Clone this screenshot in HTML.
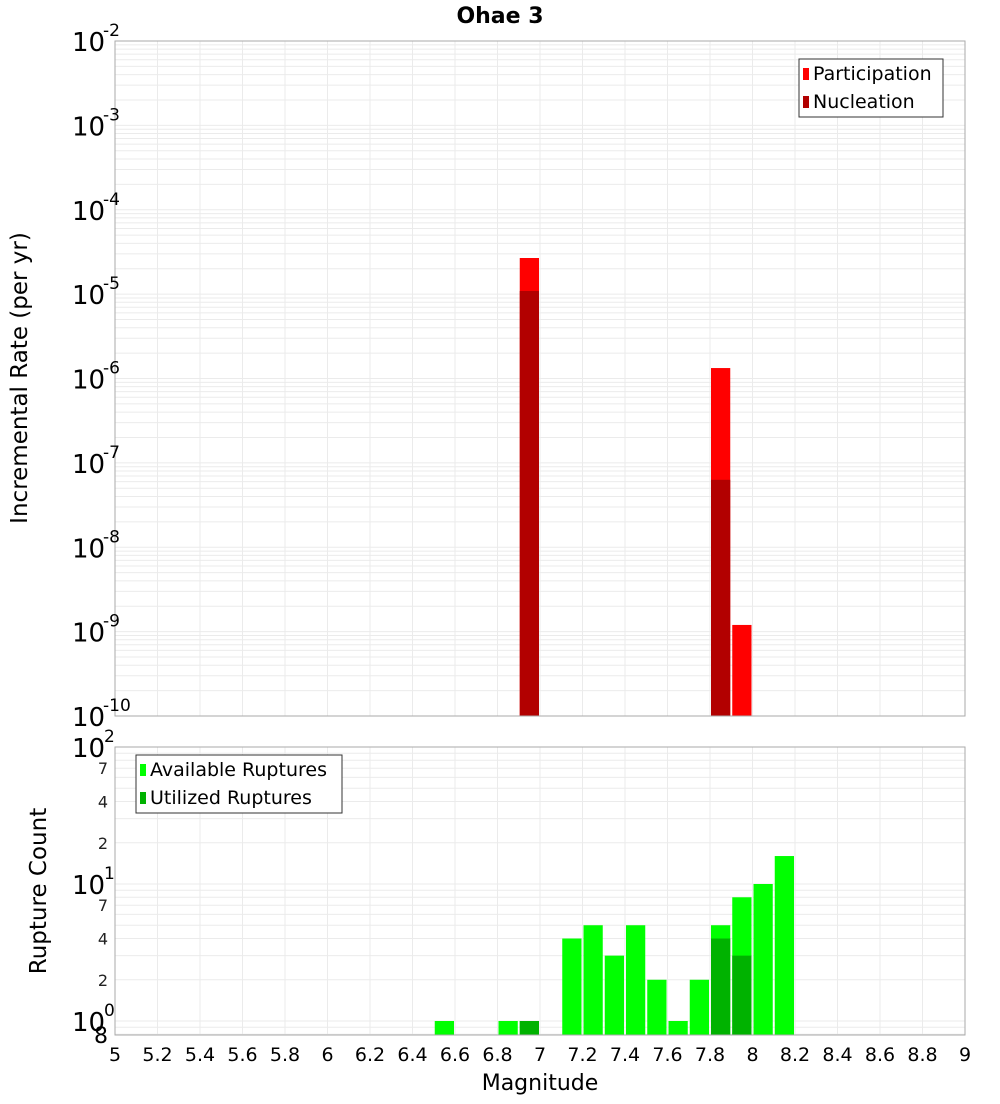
<!DOCTYPE html>
<html><head><meta charset="utf-8"><style>
body{margin:0;background:#fff;font-family:"DejaVu Sans","Liberation Sans",sans-serif}
svg text{font-family:"DejaVu Sans","Liberation Sans",sans-serif}
</style></head><body>
<svg id="c" width="1000" height="1100" xmlns="http://www.w3.org/2000/svg">
<text x="500" y="23" text-anchor="middle" font-size="22" font-weight="bold">Ohae 3</text>
<text transform="translate(27,378) rotate(-90)" text-anchor="middle" font-size="23">Incremental Rate (per yr)</text>
<text transform="translate(46,891) rotate(-90)" text-anchor="middle" font-size="23">Rupture Count</text>
<text x="540" y="1090" text-anchor="middle" font-size="22">Magnitude</text>
<g id="g"></g>
</svg>
<script>
const binCenters = [6.95, 7.85, 7.95];
const participation = [2.68e-5, 1.33e-6, 1.2e-9];
const nucleation = [1.09e-5, 6.3e-8, 0];
const countMags = [6.55, 6.85, 6.95, 7.15, 7.25, 7.35, 7.45, 7.55, 7.65, 7.75, 7.85, 7.95, 8.05, 8.15];
const available = [1, 1, 1, 4, 5, 3, 5, 2, 1, 2, 5, 8, 10, 16];
const utilized = [0, 0, 1, 0, 0, 0, 0, 0, 0, 0, 4, 3, 0, 0];
const xTicks = [5,5.2,5.4,5.6,5.8,6,6.2,6.4,6.6,6.8,7,7.2,7.4,7.6,7.8,8,8.2,8.4,8.6,8.8,9];

const NS="http://www.w3.org/2000/svg", g=document.getElementById('g');
function el(t,a,p){const e=document.createElementNS(NS,t);for(const k in a)e.setAttribute(k,a[k]);(p||g).appendChild(e);return e;}
const X0=115,X1=965;
const x=v=>X0+(v-5)/4*(X1-X0);
const T0=41,T1=716;
const yT=v=>T1-(Math.log10(v)+10)/8*(T1-T0);
const B0=747,B1=1035,BD=137;
const yB=v=>B0+(2-Math.log10(v))*BD;

for(let d=-10;d<-2;d++)for(let m=1;m<10;m++){const yy=yT(m*Math.pow(10,d));if(yy<T0||yy>T1)continue;
 const l=el('line',{x1:X0,x2:X1,y1:yy,y2:yy,stroke:'#ebebeb','stroke-width':1});
 }
for(let d=-1;d<2;d++)for(let m=1;m<10;m++){const yy=yB(m*Math.pow(10,d));if(yy<B0||yy>B1)continue;
 const l=el('line',{x1:X0,x2:X1,y1:yy,y2:yy,stroke:'#ebebeb','stroke-width':1});
 }
xTicks.forEach(t=>{[[T0,T1],[B0,B1]].forEach(r=>{const l=el('line',{x1:x(t),x2:x(t),y1:r[0],y2:r[1],stroke:'#ebebeb'});
 });});

const bw=(x(5.1)-x(5))-2;
binCenters.forEach((m,i)=>{
 const px=x(m)-bw/2;
 const r=el('rect',{x:px,y:yT(participation[i]),width:bw,height:T1-yT(participation[i]),fill:'#ff0000'});
 
 if(nucleation[i]>0){const n=el('rect',{x:px,y:yT(nucleation[i]),width:bw,height:T1-yT(nucleation[i]),fill:'#b20000'});
 }
});
countMags.forEach((m,i)=>{
 const px=x(m)-bw/2;
 const r=el('rect',{x:px,y:yB(available[i]),width:bw,height:B1-yB(available[i]),fill:'#00ff00'});
 
 if(utilized[i]>0){const n=el('rect',{x:px,y:yB(utilized[i]),width:bw,height:B1-yB(utilized[i]),fill:'#00b200'});
 }
});
[[T0,T1,'top-plot-frame'],[B0,B1,'bottom-plot-frame']].forEach(r=>{const f=el('rect',{x:X0,y:r[0],width:X1-X0,height:r[1]-r[0],fill:'none',stroke:'#aaa'});
 });
for(let d=-10;d<=-2;d++){const yy=yT(Math.pow(10,d));
 const t=el('text',{x:72,y:yy+10,'font-size':26});t.textContent='10';
 
 const s=el('text',{x:103,y:yy-5,'font-size':17});s.textContent=String(d);
 }
[0,1,2].forEach(d=>{const yy=yB(Math.pow(10,d));
 const t=el('text',{x:72,y:yy+10,'font-size':26});t.textContent='10';
 
 const s=el('text',{x:104,y:yy-5,'font-size':17});s.textContent=String(d);
 });
[[2,'2'],[4,'4'],[7,'7'],[20,'2'],[40,'4'],[70,'7']].forEach(p=>{const t=el('text',{x:108,y:yB(p[0])+6,'font-size':16,'text-anchor':'end',fill:'#222'});t.textContent=p[1];
 });
{const t=el('text',{x:108,y:1043,'font-size':22,'text-anchor':'end'});t.textContent='8';
 }
xTicks.forEach(v=>{const t=el('text',{x:x(v),y:1061,'font-size':19,'text-anchor':'middle'});t.textContent=String(v);
 });
function legend(x0,y0,w,items,name){const L=el('g',{});
 el('rect',{x:x0,y:y0,width:w,height:items.length*28+2,fill:'#fff',stroke:'#333'},L);
 items.forEach((it,i)=>{const sw=el('rect',{x:x0+4,y:y0+9+i*28,width:6,height:12,fill:it[1]},L);
 
 const t=el('text',{x:x0+14,y:y0+21+i*28,'font-size':19},L);t.textContent=it[0];
 });}
legend(799,59,144,[['Participation','#ff0000'],['Nucleation','#b20000']],'top-legend');
legend(136,755,206,[['Available Ruptures','#00ff00'],['Utilized Ruptures','#00b200']],'bottom-legend');
</script>
</body></html>
